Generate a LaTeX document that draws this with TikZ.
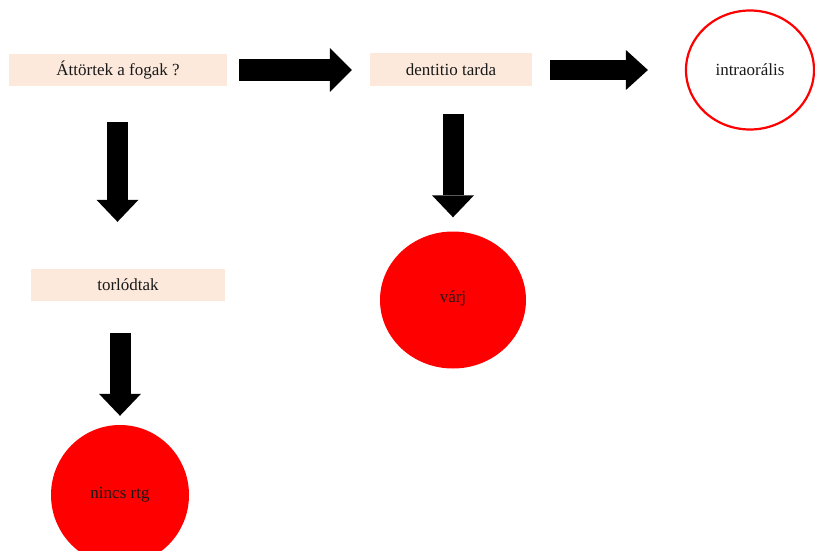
\documentclass[tikz,border=0pt]{standalone}
\usepackage{fontspec}
\setmainfont{Liberation Serif}
\usetikzlibrary{shapes.geometric,arrows.meta}

\definecolor{peach}{HTML}{FCE9DB}
\definecolor{brightred}{HTML}{FF0000}

\tikzset{
  txt/.style={font=\fontsize{17}{19}\selectfont, text=black!90},
  stepbox/.style={txt, fill=peach, draw=none, inner sep=0pt},
  outcome/.style={txt, ellipse, fill=brightred, draw=none, inner sep=0pt},
  ringnode/.style={txt, ellipse, draw=brightred, line width=2.2pt, fill=white, inner sep=0pt},
  bigarrow/.style={draw=black, line width=#1,
    -{Triangle[width=2*#1, length=22pt, line width=0pt]}},
  bigarrow/.default=21pt
}

\begin{document}
\begin{tikzpicture}[x=1pt, y=-1pt]
  \useasboundingbox (0,0) rectangle (815,551);

  % question boxes
  \node[stepbox, minimum width=218pt, minimum height=32pt] (q1) at (118,70) {Áttörtek a fogak ?};
  \node[stepbox, minimum width=162pt, minimum height=33pt] (q2) at (451,70) {dentitio tarda};
  \node[stepbox, minimum width=194pt, minimum height=32pt] (q3) at (128,285) {torlódtak};

  % outcomes
  \node[ringnode, minimum width=128pt, minimum height=119pt] (r1) at (750,70) {intraorális};
  \node[outcome, minimum width=146pt, minimum height=137pt] (r2) at (453,300) {\raisebox{7pt}{várj}};
  \node[outcome, minimum width=138pt, minimum height=140pt] (r3) at (120,495) {nincs rtg};

  % block arrows
  \draw[bigarrow=22pt, shorten <=12pt, shorten >=18pt] (q1.east) -- (q2.west);
  \draw[bigarrow=20pt, shorten <=18pt, shorten >=37pt] (q2.east) -- (r1.west);
  \draw[bigarrow, shorten <=36pt, shorten >=47pt] ([xshift=-0.5pt]q1.south) -- ([xshift=-0.5pt]q1.south |- q3.north);
  \draw[bigarrow, shorten <=27pt, shorten >=14pt] ([xshift=2pt]q2.south) -- (r2.north);
  \draw[bigarrow, shorten <=32pt, shorten >=9pt] (r3.north |- q3.south) -- (r3.north);
\end{tikzpicture}
\end{document}
